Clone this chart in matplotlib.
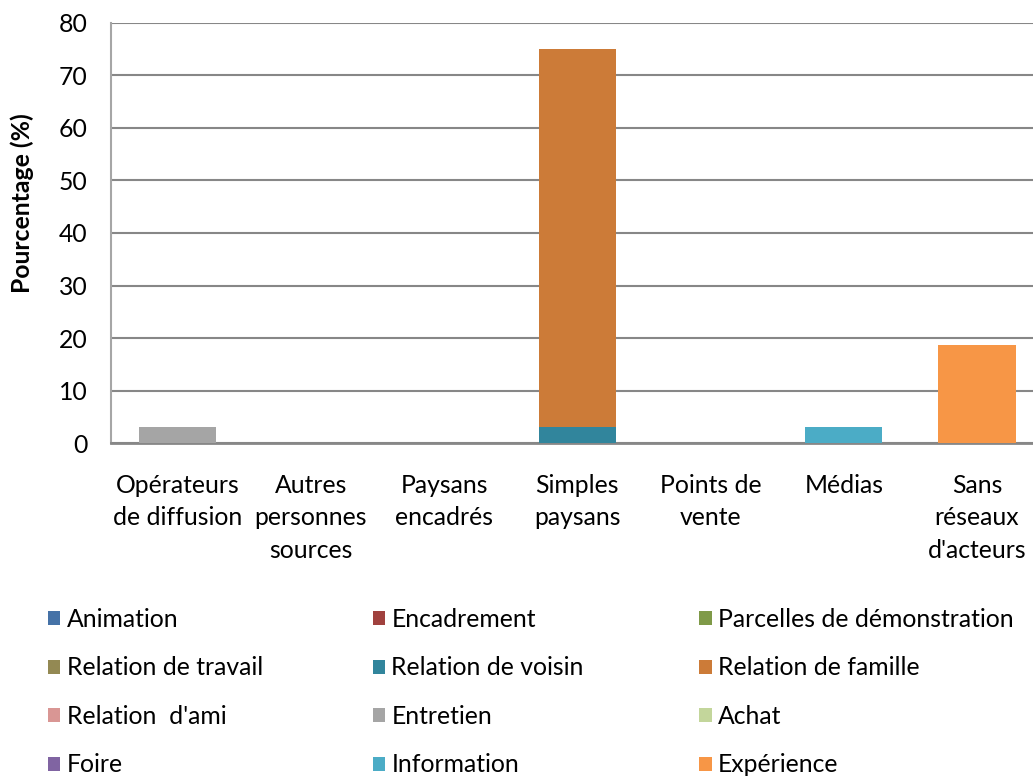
import matplotlib
matplotlib.use("Agg")
import matplotlib.pyplot as plt
from matplotlib.patches import Patch
import numpy as np

categories = ["Opérateurs\nde diffusion", "Autres\npersonnes\nsources", "Paysans\nencadrés",
              "Simples\npaysans", "Points de\nvente", "Médias", "Sans\nréseaux\nd'acteurs"]
series_names = ["Animation", "Encadrement", "Parcelles de démonstration",
                "Relation de travail", "Relation de voisin", "Relation de famille",
                "Relation  d'ami", "Entretien", "Achat",
                "Foire", "Information", "Expérience"]
colors = ["#4572A7", "#A0413E", "#7F9A48", "#938953", "#31859C", "#CC7B38",
          "#D99694", "#A5A5A5", "#C3D69B", "#8064A2", "#4BACC6", "#F79646"]

animation = [0, 0, 0, 0, 0, 0, 0]
encadrement = [0, 0, 0, 0, 0, 0, 0]
parcelles = [0, 0, 0, 0, 0, 0, 0]
rel_travail = [0, 0, 0, 0, 0, 0, 0]
rel_voisin = [0, 0, 0, 3.125, 0, 0, 0]
rel_famille = [0, 0, 0, 71.875, 0, 0, 0]
rel_ami = [0, 0, 0, 0, 0, 0, 0]
entretien = [3.125, 0, 0, 0, 0, 0, 0]
achat = [0, 0, 0, 0, 0, 0, 0]
foire = [0, 0, 0, 0, 0, 0, 0]
information = [0, 0, 0, 0, 0, 3.125, 0]
experience = [0, 0, 0, 0, 0, 0, 18.75]
series = [animation, encadrement, parcelles, rel_travail, rel_voisin, rel_famille,
          rel_ami, entretien, achat, foire, information, experience]

plt.rcParams['font.family'] = ['Lato', 'DejaVu Sans']
FS = 17.8

fig = plt.figure(figsize=(10.33, 7.76), dpi=100)
ax = fig.add_axes([0.1075, 0.4291, 0.8925, 0.5413])

x = np.arange(len(categories))
bottom = np.zeros(len(categories))
for name, vals, c in zip(series_names, series, colors):
    v = np.array(vals, dtype=float)
    ax.bar(x, v, 0.58, bottom=bottom, color=c, label=name, zorder=3)
    bottom += v

ax.set_ylim(0, 80)
ax.set_xlim(-0.5, 6.42)
ax.set_yticks(range(0, 81, 10))
ax.yaxis.grid(True, color="#878787", linewidth=1.5, zorder=0)
ax.set_xticks(x)
ax.set_xticklabels(categories, fontsize=FS, linespacing=1.5, va="top")
ax.tick_params(axis='both', length=0, labelsize=FS)
ax.tick_params(axis='x', pad=22)
ax.tick_params(axis='y', pad=17)
for s in ["top", "right"]:
    ax.spines[s].set_visible(False)
ax.spines["left"].set_color("#A6A6A6")
ax.spines["left"].set_linewidth(1.5)
ax.spines["bottom"].set_color("#878787")
ax.spines["bottom"].set_linewidth(2)
ax.set_ylabel("Pourcentage (%)", fontsize=FS, fontweight="bold")
ax.yaxis.set_label_coords(-0.084, 0.571)

handles = [Patch(facecolor=c, label=n) for n, c in zip(series_names, colors)]
col_x = [0.0465, 0.361, 0.677]
for ci in range(3):
    hs = [handles[r * 3 + ci] for r in range(4)]
    fig.legend(handles=hs, loc="upper left", bbox_to_anchor=(col_x[ci], 0.2165),
               frameon=False, fontsize=FS, handlelength=0.5, handleheight=0.5,
               handletextpad=0.25, labelspacing=1.03, borderaxespad=0, borderpad=0)

fig.savefig("out.png", dpi=100)
